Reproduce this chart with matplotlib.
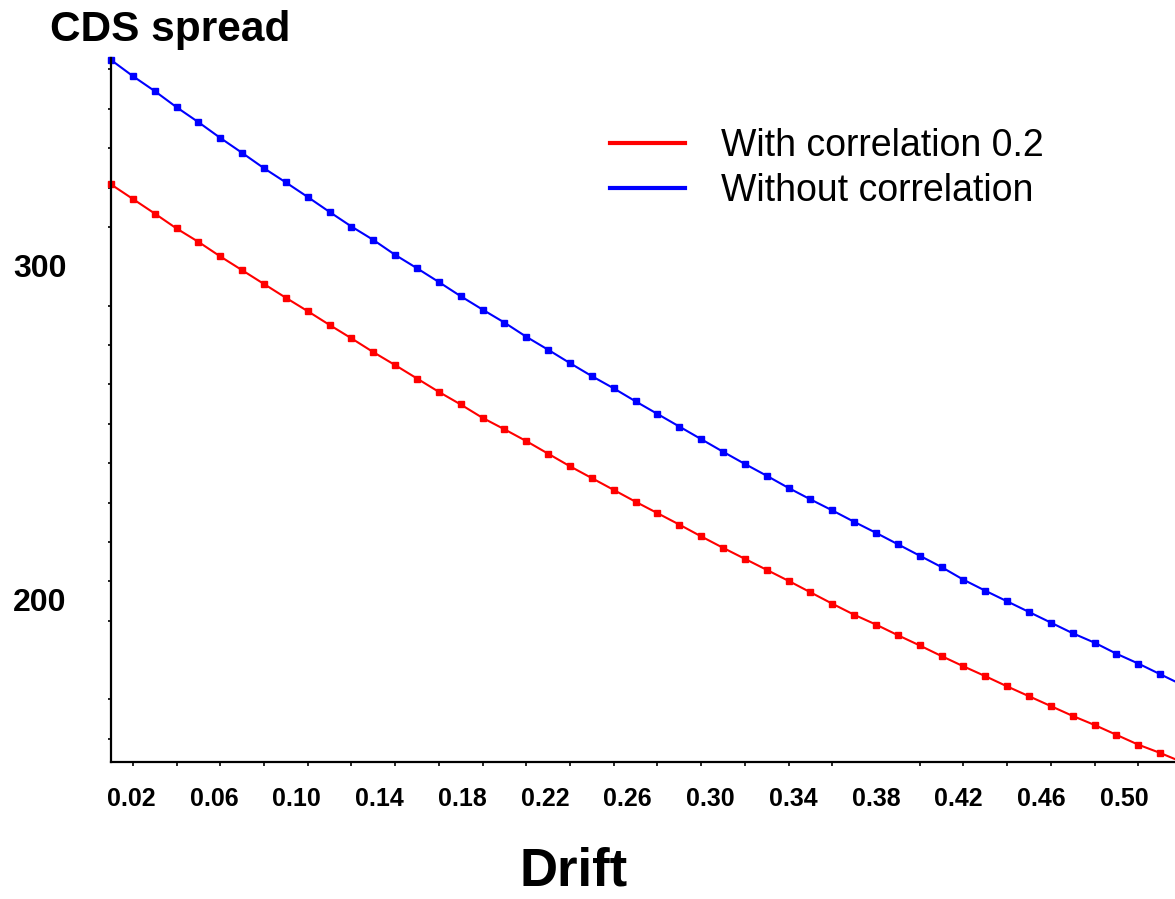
import numpy as np
import matplotlib
matplotlib.use("Agg")
import matplotlib.pyplot as plt

plt.rcParams['font.family'] = ['Liberation Sans', 'DejaVu Sans']

# drift values 0.01 .. 0.50
drift = np.round(np.arange(1, 51) * 0.01, 2)

with_corr = [320.8, 317.1, 313.4, 309.6, 306.2, 302.5, 299.0, 295.5, 292.0, 288.6,
             285.1, 281.7, 278.2, 274.9, 271.5, 268.1, 264.9, 261.5, 258.6, 255.6,
             252.4, 249.2, 246.2, 243.2, 240.2, 237.3, 234.4, 231.4, 228.5, 225.7,
             222.9, 220.1, 217.2, 214.3, 211.5, 209.0, 206.3, 203.7, 201.0, 198.4,
             195.9, 193.3, 190.8, 188.3, 185.8, 183.5, 181.0, 178.5, 176.4, 174.1]

without_corr = [352.4, 348.3, 344.5, 340.4, 336.6, 332.6, 328.8, 324.9, 321.3, 317.6,
                313.8, 310.1, 306.7, 302.9, 299.5, 296.0, 292.4, 289.0, 285.7, 282.1,
                278.8, 275.4, 272.1, 269.0, 265.7, 262.5, 259.3, 256.1, 252.9, 249.8,
                246.8, 243.7, 240.8, 238.0, 235.1, 232.3, 229.4, 226.5, 223.6, 220.4,
                217.6, 214.9, 212.2, 209.5, 206.8, 204.4, 201.6, 199.1, 196.4, 193.7]

x_labels = ['0.02', '0.06', '0.10', '0.14', '0.18', '0.22', '0.26',
            '0.30', '0.34', '0.38', '0.42', '0.46', '0.50']
y_labels = ['300', '200']

fig = plt.figure(figsize=(11.75, 8.99), dpi=100)
W, H = 1175, 899
ax = fig.add_axes([111 / W, (H - 762) / H, (1182 - 111) / W, (762 - 58) / H])

ax.plot(drift, with_corr, color='#ff0000', lw=1.5, marker='s', ms=3.8,
        label='With correlation 0.2', clip_on=False)
ax.plot(drift, without_corr, color='#0000ff', lw=1.5, marker='s', ms=3.8,
        label='Without correlation', clip_on=False)

ax.set_xlim(0.01, 0.50)
ax.set_ylim(174.1, 352.9)

for s in ['top', 'right']:
    ax.spines[s].set_visible(False)
for s in ['left', 'bottom']:
    ax.spines[s].set_linewidth(1.6)

# the original axis places its labels slightly off the tick marks
ax.set_xticks(np.linspace(0.0192, 0.4736, 13))
ax.set_xticklabels(x_labels, fontsize=18, fontweight='bold')
ax.set_xticks(np.arange(0.02, 0.501, 0.02), minor=True)
ax.tick_params(axis='x', which='major', length=0, pad=18)
ax.tick_params(axis='x', which='minor', length=3, width=1.2, direction='out')

ax.set_yticks([300.3, 215.3])
ax.set_yticklabels(y_labels, fontsize=23, fontweight='bold')
ax.set_yticks([v for v in range(180, 351, 10) if v not in (200, 300)], minor=True)
ax.tick_params(axis='y', which='major', length=0, pad=32)
ax.tick_params(axis='y', which='minor', length=2.5, width=1.2, direction='out')

fig.text(170 / W, 1 - 30 / H, 'CDS spread', fontsize=30.5, fontweight='bold',
         ha='center', va='center')
fig.text(574 / W, 1 - 872 / H, 'Drift', fontsize=38, fontweight='bold',
         ha='center', va='center')

leg = ax.legend(loc='upper left', bbox_to_anchor=(610 / W, 1 - 128 / H),
                bbox_transform=fig.transFigure, frameon=False, fontsize=27,
                handlelength=2.0, handletextpad=0.95, labelspacing=0.25,
                borderpad=0, borderaxespad=0)
for line in leg.get_lines():
    line.set_linewidth(3)
    line.set_marker('')

fig.savefig('out.png', dpi=100)
